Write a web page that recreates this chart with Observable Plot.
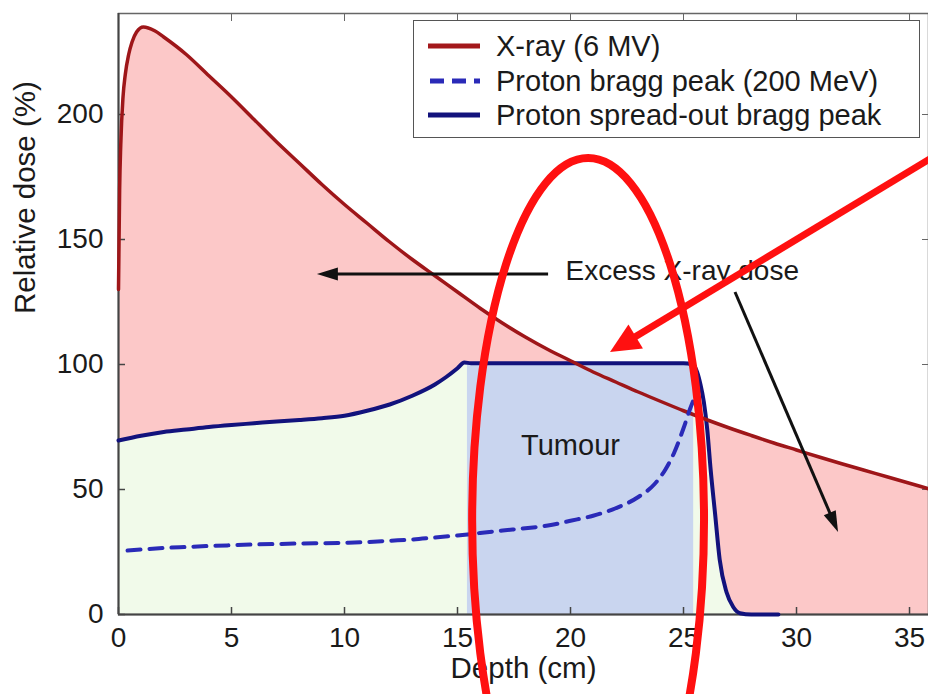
<!DOCTYPE html>
<html>
<head>
<meta charset="utf-8">
<script src="https://cdn.jsdelivr.net/npm/d3@7"></script>
<script src="https://cdn.jsdelivr.net/npm/@observablehq/plot@0.6"></script>
<style>
  body { margin: 0; background: #fff; font-family: "Liberation Sans", Arial, Helvetica, sans-serif; }
  #wrap { position: relative; width: 928px; height: 694px; overflow: hidden; background: #fff; }
  #legend { position: absolute; left: 413px; top: 20px; width: 507px; height: 118px;
            border: 1.5px solid #555; background: #fff; box-sizing: border-box; }
  #legend .row { position: absolute; left: 0; height: 34px; display: flex; align-items: center; }
  #legend svg { display: block; }
  #legend span { font-size: 29px; color: #1a1a1a; margin-left: 14px; white-space: nowrap; }
</style>
</head>
<body>
<div id="wrap"></div>
<script>
// ---- data ----
const xrayDepth = [0,0.05,0.1,0.2,0.3,0.45,0.6,0.8,1.1,1.6,2,3,4,5,6,7,8,9,10,11,12,13,14,15,16,17,18,19,20,21,22,23,24,25,26,27,28,29,30,31,32,33,34,35,36];
const xrayDose  = [130,170,188,207,216,224,229,233,235,233.5,231,224,215.5,207,198,189,180.5,172,164,156.5,149,142,135.5,129,122.5,116.5,111,106,101.5,97,93,89,85.2,81.5,78,74.7,71.6,68.6,65.8,63,60.3,57.7,55.1,52.5,49.9];

const sobpDepth = [0,1,2,3,4,5,6,7,8,9,10,11,12,13,14,14.5,15,15.3,15.6,16,18,20,22,24,25,25.4,25.6,25.75,25.9,26.05,26.2,26.4,26.6,26.9,27.2,27.5,28,29.2];
const sobpDose  = [69.6,71.5,73,74,75,75.8,76.5,77.2,77.8,78.5,79.5,81.5,84,87.5,92,95,98.5,100.8,100.5,100.5,100.5,100.5,100.5,100.5,100.5,100,97,92,85,74,58,40,22,9,3,0.5,0,0];

const braggDepth = [0.4,1,2,3,4,5,6,7,8,9,10,11,12,13,14,15,16,17,18,19,20,21,22,23,23.7,24.2,24.6,25,25.3,25.45];
const braggDose  = [25.6,26,26.6,27,27.4,27.7,28,28.2,28.4,28.5,28.7,29,29.5,30,30.8,31.6,32.6,33.6,34.5,35.6,37.5,39.5,42.5,47,52,58,65,74.5,82.5,86];

const tumourStart = [15.44];
const tumourEnd   = [25.45];
const tumourDose  = [100];

const xTicks = [0,5,10,15,20,25,30,35];
const yTicks = [0,50,100,150,200];

const legendLabels = ["X-ray (6 MV)", "Proton bragg peak (200 MeV)", "Proton spread-out bragg peak"];
const legendColors = ["#a3181b", "#2a2ab8", "#12127c"];
const legendDash   = [null, "13,9", null];

// annotations (data coordinates)
const noteText = [
  {x: 19.78, y: 137.2, text: "Excess X-ray dose", anchor: "start"},
  {x: 20.0,  y: 67.6,  text: "Tumour", anchor: "middle"}
];
const blackArrows = [
  {x1: 19.03, y1: 136, x2: 8.8,   y2: 136},
  {x1: 27.3,  y1: 128.8, x2: 31.86, y2: 32.8}
];
const redArrow = {x1: 36.5, y1: 185.2, x2: 21.77, y2: 104.8};
const redEllipse = {cx: 20.8, cy: 37.6, rx: 5.13, ry: 144.8};

// ---- tables ----
const xray  = xrayDepth.map((d, i) => ({depth: d, dose: xrayDose[i]}));
const sobp  = sobpDepth.map((d, i) => ({depth: d, dose: sobpDose[i]}));
const bragg = braggDepth.map((d, i) => ({depth: d, dose: braggDose[i]}));
const tumour = tumourStart.map((d, i) => ({x1: d, x2: tumourEnd[i], y: tumourDose[i]}));

const font = '"Liberation Sans", Arial, Helvetica, sans-serif';

const plot = Plot.plot({
  width: 928, height: 694,
  marginLeft: 118, marginRight: 0, marginTop: 13, marginBottom: 80,
  x: {domain: [0, 35.84]},
  y: {domain: [0, 240.4]},
  style: {fontFamily: font, fontSize: "28px", color: "#1a1a1a", background: "transparent", overflow: "visible"},
  marks: [
    Plot.areaY(xray, {x: "depth", y: "dose", fill: "#fcc8c8", curve: "monotone-x"}),
    Plot.areaY(sobp, {x: "depth", y: "dose", fill: "#f1faea", curve: "monotone-x"}),
    Plot.rect(tumour, {x1: "x1", x2: "x2", y1: 0, y2: "y", fill: "#c9d5ef"}),
    Plot.frame({stroke: "#666", strokeWidth: 1.5}),
    Plot.axisX({ticks: xTicks, tickSize: -7, tickPadding: 20, label: null, stroke: "#444", strokeWidth: 1.5}),
    Plot.axisX({anchor: "top", ticks: xTicks, tickSize: -7, tickFormat: () => "", label: null, stroke: "#666"}),
    Plot.axisY({ticks: yTicks, tickSize: -7, tickPadding: 22, label: null, stroke: "#444", strokeWidth: 1.5}),
    Plot.axisY({anchor: "right", ticks: yTicks, tickSize: -7, tickFormat: () => "", label: null, stroke: "#666"}),
    Plot.ruleY([0], {stroke: "#444", strokeWidth: 2}),
    Plot.ruleX([0], {stroke: "#444", strokeWidth: 2}),
    Plot.line(sobp, {x: "depth", y: "dose", stroke: "#12127c", strokeWidth: 4, curve: "monotone-x"}),
    Plot.line(xray, {x: "depth", y: "dose", stroke: "#9e1619", strokeWidth: 3.5, curve: "monotone-x"}),
    Plot.line(bragg, {x: "depth", y: "dose", stroke: "#2a2ab8", strokeWidth: 4, strokeDasharray: "13,9", curve: "monotone-x"}),
    Plot.text(noteText, {x: "x", y: "y", text: "text", textAnchor: "start", filter: d => d.anchor === "start", fontSize: 28, fill: "#1a1a1a"}),
    Plot.text(noteText, {x: "x", y: "y", text: "text", textAnchor: "middle", filter: d => d.anchor === "middle", fontSize: 29, fill: "#1a1a1a"}),
    Plot.text(["Depth (cm)"], {frameAnchor: "bottom", dy: 63, fontSize: 29.5, fill: "#1a1a1a"}),
    Plot.text(["Relative dose (%)"], {frameAnchor: "left", dx: -93, rotate: -90, fontSize: 29.5, fill: "#1a1a1a"})
  ]
});

// annotation overlay using the plot's own scales
const sx = plot.scale("x"), sy = plot.scale("y");
const svg = d3.select(plot);
const g = svg.append("g");

function drawArrow(a, color, width, headLen, headHalf) {
  const x1 = sx.apply(a.x1), y1 = sy.apply(a.y1), x2 = sx.apply(a.x2), y2 = sy.apply(a.y2);
  const dx = x2 - x1, dy = y2 - y1, L = Math.hypot(dx, dy);
  const ux = dx / L, uy = dy / L, nx = -uy, ny = ux;
  const bx = x2 - ux * headLen, by = y2 - uy * headLen;
  g.append("line").attr("x1", x1).attr("y1", y1).attr("x2", bx + ux * 2).attr("y2", by + uy * 2)
    .attr("stroke", color).attr("stroke-width", width);
  g.append("path")
    .attr("d", `M${x2},${y2}L${bx + nx * headHalf},${by + ny * headHalf}L${bx - nx * headHalf},${by - ny * headHalf}Z`)
    .attr("fill", color);
}
blackArrows.forEach(a => drawArrow(a, "#111", 3, 21, 6.5));
drawArrow(redArrow, "#ff1010", 7, 30, 14);

g.append("ellipse")
  .attr("cx", sx.apply(redEllipse.cx))
  .attr("cy", sy.apply(redEllipse.cy))
  .attr("rx", sx.apply(redEllipse.cx + redEllipse.rx) - sx.apply(redEllipse.cx))
  .attr("ry", sy.apply(redEllipse.cy) - sy.apply(redEllipse.cy + redEllipse.ry))
  .attr("fill", "none").attr("stroke", "#ff1010").attr("stroke-width", 8);

const wrap = document.getElementById("wrap");
wrap.appendChild(plot);

// legend
const leg = document.createElement("div");
leg.id = "legend";
const rowTops = [8, 43, 77];
legendLabels.forEach((lab, i) => {
  const row = document.createElement("div");
  row.className = "row";
  row.style.top = rowTops[i] + "px";
  const s = d3.create("svg").attr("width", 68).attr("height", 34);
  s.append("line").attr("x1", 14).attr("x2", 66).attr("y1", 17).attr("y2", 17)
    .attr("stroke", legendColors[i]).attr("stroke-width", 5)
    .attr("stroke-dasharray", legendDash[i] ? "14,8" : null)
    .attr("stroke-dashoffset", legendDash[i] ? -2 : null);
  row.appendChild(s.node());
  const t = document.createElement("span");
  t.textContent = lab;
  row.appendChild(t);
  leg.appendChild(row);
});
wrap.appendChild(leg);
</script>
</body>
</html>
